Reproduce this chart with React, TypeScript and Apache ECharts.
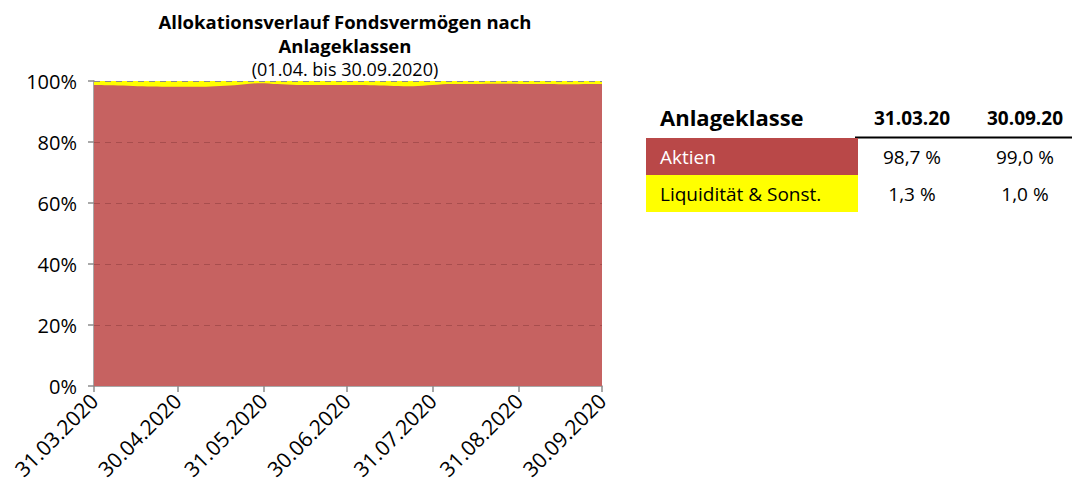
import React, { useEffect, useRef } from "react";
import * as echarts from "echarts";

const tickDays = [0, 30, 61, 91, 122, 153, 183];
const tickLabels = ["31.03.2020", "30.04.2020", "31.05.2020", "30.06.2020", "31.07.2020", "31.08.2020", "30.09.2020"];

const days = [0, 7, 14, 21, 28, 35, 42, 49, 56, 60, 66, 73, 80, 87, 94, 101, 108, 115, 122, 129, 136, 143, 150, 157, 164, 171, 178, 183];
const liquiditaet = [1.3, 1.4, 1.6, 1.8, 1.9, 1.9, 1.8, 1.5, 0.9, 0.7, 1.0, 1.3, 1.3, 1.3, 1.3, 1.4, 1.6, 1.7, 1.3, 1.0, 1.0, 0.9, 0.9, 1.0, 1.0, 1.1, 1.0, 1.0];

const gridValues = [20, 40, 60, 80];

const titleLines = ["Allokationsverlauf Fondsvermögen nach", "Anlageklassen"];
const subtitle = "(01.04. bis 30.09.2020)";

const tableHeader = ["Anlageklasse", "31.03.20", "30.09.20"];
const tableRows = ["Aktien", "Liquidität & Sonst."];
const tableStart = ["98,7 %", "1,3 %"];
const tableEnd = ["99,0 %", "1,0 %"];

const FONT = "'Open Sans', 'Noto Sans', sans-serif";

export default function App() {
  const ref = useRef<HTMLDivElement>(null);
  useEffect(() => {
    if (!ref.current) return;
    const chart = echarts.init(ref.current, null, { renderer: "svg" });
    const aktien = days.map((d, i) => [d, +(100 - liquiditaet[i]).toFixed(2)]);
    const total = days.map((d, i) => [d, +((100 - liquiditaet[i]) + liquiditaet[i]).toFixed(2)]);
    const rowColors = ["#B94848", "#FFFF00"];
    const rowText = ["#ffffff", "#000000"];
    const graphic: any[] = [
      {
        type: "text",
        style: { x: 345, y: 21, text: titleLines[0], align: "center", verticalAlign: "middle", font: `bold 18.5px ${FONT}`, fill: "#000" },
      },
      {
        type: "text",
        style: { x: 345, y: 45, text: titleLines[1], align: "center", verticalAlign: "middle", font: `bold 18.5px ${FONT}`, fill: "#000" },
      },
      {
        type: "text",
        style: { x: 345, y: 69, text: subtitle, align: "center", verticalAlign: "middle", font: `18px ${FONT}`, fill: "#000" },
      },
      { type: "text", style: { x: 660, y: 117, text: tableHeader[0], verticalAlign: "middle", font: `bold 22px ${FONT}`, fill: "#000" } },
      { type: "text", style: { x: 912, y: 118, text: tableHeader[1], align: "center", verticalAlign: "middle", font: `bold 19px ${FONT}`, fill: "#000" } },
      { type: "text", style: { x: 1025, y: 118, text: tableHeader[2], align: "center", verticalAlign: "middle", font: `bold 19px ${FONT}`, fill: "#000" } },
      { type: "line", shape: { x1: 855, y1: 137.5, x2: 1072, y2: 137.5 }, style: { stroke: "#000", lineWidth: 2 } },
    ];
    tableRows.forEach((r, i) => {
      const y0 = 138 + i * 37;
      graphic.push({ type: "rect", shape: { x: 646, y: y0, width: 212, height: 37 }, style: { fill: rowColors[i] } });
      graphic.push({ type: "text", style: { x: 660, y: y0 + 19, text: r, verticalAlign: "middle", font: `19px ${FONT}`, fill: rowText[i] } });
      graphic.push({ type: "text", style: { x: 912, y: y0 + 19, text: tableStart[i], align: "center", verticalAlign: "middle", font: `19px ${FONT}`, fill: "#000" } });
      graphic.push({ type: "text", style: { x: 1025, y: y0 + 19, text: tableEnd[i], align: "center", verticalAlign: "middle", font: `19px ${FONT}`, fill: "#000" } });
    });
    chart.setOption({
      animation: false,
      textStyle: { fontFamily: FONT },
      grid: { left: 94, right: 480, top: 81, bottom: 100, containLabel: false },
      xAxis: {
        type: "value",
        min: 0,
        max: 183,
        axisLine: { show: true, lineStyle: { color: "#8c8c8c", width: 1.5 } },
        axisTick: { show: true, customValues: tickDays, length: 6, lineStyle: { color: "#8c8c8c", width: 1.5 } },
        axisLabel: {
          customValues: tickDays,
          rotate: 45,
          color: "#000",
          fontSize: 21,
          margin: 11,
          formatter: (v: number) => tickLabels[tickDays.indexOf(Math.round(v))] ?? "",
        },
        splitLine: { show: false },
      },
      yAxis: {
        type: "value",
        min: 0,
        max: 100,
        interval: 20,
        axisLine: { show: true, lineStyle: { color: "#8c8c8c", width: 1.5 } },
        axisTick: { show: true, length: 6, lineStyle: { color: "#8c8c8c", width: 1.5 } },
        axisLabel: { formatter: "{value}%", color: "#000", fontSize: 20, margin: 17 },
        splitLine: { show: false },
      },
      series: [
        {
          name: "Liquidität & Sonst.",
          type: "line",
          data: total,
          symbol: "none",
          lineStyle: { width: 0 },
          areaStyle: { color: "#FFFF00", opacity: 1 },
          z: 1,
          markLine: {
            silent: true,
            symbol: "none",
            label: { show: false },
            lineStyle: { color: "#8a8a8a", type: [6, 5], width: 1.2 },
            data: [{ yAxis: 100 }],
          },
        },
        {
          name: "Aktien",
          type: "line",
          data: aktien,
          smooth: 0.3,
          symbol: "none",
          lineStyle: { width: 0 },
          areaStyle: { color: "#C66261", opacity: 1 },
          z: 2,
          markLine: {
            silent: true,
            symbol: "none",
            label: { show: false },
            lineStyle: { color: "rgba(110,40,40,0.35)", type: [6, 5], width: 1.2 },
            data: gridValues.map((v) => ({ yAxis: v })),
          },
        },
      ],
      graphic,
    });
    return () => chart.dispose();
  }, []);
  return (
    <div style={{ position: "absolute", left: 0, top: 0, width: 1082, height: 486, background: "#fff" }}>
      <div ref={ref} style={{ width: 1082, height: 486 }} />
    </div>
  );
}
